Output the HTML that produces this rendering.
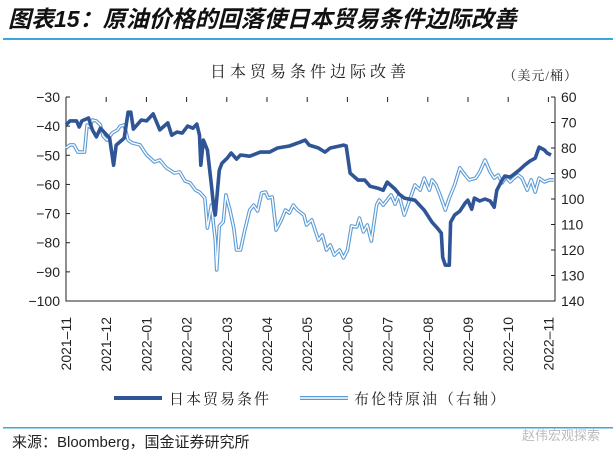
<!DOCTYPE html>
<html><head><meta charset="utf-8"><style>
body{margin:0;background:#fff;width:613px;height:457px;overflow:hidden;font-family:"Liberation Sans","Noto Sans CJK SC",sans-serif}
svg text{font-family:"Liberation Sans","Noto Sans CJK SC",sans-serif}
svg text.serif{font-family:"Liberation Serif","Noto Serif CJK SC",serif}
</style></head><body>
<svg id="c" width="613" height="457" xmlns="http://www.w3.org/2000/svg">
<text x="8" y="27" font-size="23" font-weight="bold" font-style="italic" fill="#111">图表15：原油价格的回落使日本贸易条件边际改善</text>
<rect x="3" y="38" width="610" height="2" fill="#3aa8dc"/>
<text class="serif" x="310" y="77" font-size="16" letter-spacing="4" text-anchor="middle" fill="#222">日本贸易条件边际改善</text>
<text class="serif" x="578" y="80" font-size="13" letter-spacing="1" text-anchor="end" fill="#222">（美元/桶）</text>
<g id="axes"></g>
<g id="series"></g>
<line x1="114" y1="398" x2="162" y2="398" stroke="#2f5597" stroke-width="4"/>
<text class="serif" x="169" y="404" font-size="15" letter-spacing="2" fill="#222">日本贸易条件</text>
<line x1="300" y1="398" x2="348" y2="398" stroke="#5b9bd5" stroke-width="4"/>
<line x1="300" y1="398" x2="348" y2="398" stroke="#fff" stroke-width="1.5"/>
<text class="serif" x="354" y="404" font-size="15" letter-spacing="2" fill="#222">布伦特原油（右轴）</text>
<rect x="3" y="427" width="610" height="1.5" fill="#3aa8dc"/>
<text x="12" y="447" font-size="15" fill="#222">来源：Bloomberg，国金证券研究所</text>
<text x="600" y="440" font-size="13" text-anchor="end" fill="#bbb">赵伟宏观探索</text>
</svg>
<script>
const monthLabels=["2021-11","2021-12","2022-01","2022-02","2022-03","2022-04","2022-05","2022-06","2022-07","2022-08","2022-09","2022-10","2022-11"];
const leftTicks=[-30,-40,-50,-60,-70,-80,-90,-100];
const rightTicks=[60,70,80,90,100,110,120,130,140];
const totDays=[0,3,8,10,12,17,20,23,26,33,36,38,44,47,49,51,57,61,66,71,77,80,84,88,92,96,99,101,102,104,107,110,112,113,116,118,122,125,129,132,139,147,154,160,169,177,181,184,191,196,200,207,210,212,215,221,226,230,236,240,243,249,252,256,264,271,277,281,284,285,287,290,291,294,298,302,304,307,309,313,317,321,324,326,330,332,336,339,343,347,351,355,358,362,364,367];
const totVals=[-39.6,-38.2,-38.2,-40.3,-38.2,-37.2,-41.3,-43.7,-40.7,-44.1,-53.4,-46.5,-44.1,-35.2,-35.2,-41,-37.9,-38.2,-35.8,-41.3,-38.9,-43.1,-42,-42.4,-40,-40.7,-39.3,-43.1,-53.4,-44.8,-48.2,-60.2,-68.8,-70.5,-55.1,-52.7,-51,-49.2,-51.3,-49.9,-50.3,-48.9,-48.9,-47.5,-46.8,-45.5,-44.8,-46.5,-47.5,-48.9,-47.5,-46.8,-46.5,-46.8,-56.1,-58.5,-58.5,-60.6,-61.3,-62,-59.2,-61.6,-63.3,-64.7,-65.4,-68.8,-73,-75,-76.7,-85,-87.7,-87.7,-73,-70.5,-69.2,-66.4,-65.4,-68.5,-64.7,-65.7,-65,-65.7,-67.8,-62,-58.5,-57.1,-57.5,-56.5,-55.1,-53.4,-52,-51,-47.2,-48.2,-49.2,-49.9];
const brentDays=[0,3,6,9,14,16,18,20,23,26,28,31,35,39,41,44,47,50,56,61,67,71,76,82,86,90,94,98,101,105,107,110,113,114,116,119,121,124,127,129,132,135,139,142,145,148,151,153,156,159,163,166,169,172,175,180,182,186,191,194,197,200,203,207,210,213,216,220,222,225,228,231,235,237,240,243,246,249,252,256,260,264,268,271,275,277,280,283,287,290,294,298,302,305,310,313,317,321,324,327,330,333,336,339,342,345,349,352,355,358,362,366,369];
const brentVals=[80,78.8,78.8,81.6,81.6,71,71.8,69,69.4,71,75.3,76.9,74.1,72.9,71.4,71,76.9,78,78.8,82.7,85.5,84.7,87.8,89.8,89.4,92.9,93.7,96.5,97.3,99.6,111.4,102.4,116.1,127.8,110.6,109,98.4,104.3,111.4,120,120,112.9,104.3,102.4,104.7,97.6,97.3,99.6,99.2,112.2,108.2,104.3,105.5,102.4,104.3,106.3,110.2,108.2,116.1,114.1,120,118,122,120,123.1,120,110.6,111,107.5,112.9,110.2,116.5,102.4,100.4,102.4,100.4,98.4,102,98.4,106.3,100.4,94.5,96.5,91.8,96.5,92.5,94.5,98.4,104.3,99.6,94.5,87.8,90.6,92.5,91.8,89.4,84.7,89.4,91.8,90.6,93.7,91.4,93.3,91.8,90.6,91.8,96.5,92.5,97.3,91.8,93.3,92.5,92.5];

const X0=66,X1=555,Y0=97,Y1=301,DAYS_END=370;
const xMonth=i=>X0+i*40.2;
const xDay=d=>X0+(X1-X0)*d/DAYS_END;
const yL=v=>Y0+(-30-v)/70*(Y1-Y0);
const yR=v=>Y0+(v-60)/80*(Y1-Y0);
const NS="http://www.w3.org/2000/svg";
function mk(tag,attrs,parent){const e=document.createElementNS(NS,tag);for(const k in attrs)e.setAttribute(k,attrs[k]);parent.appendChild(e);return e;}
const ax=document.getElementById('axes'),sr=document.getElementById('series');
let e=mk('path',{d:`M${X0},${Y0}V${Y1}H${X1}V${Y0}`,fill:'none',stroke:'#222','stroke-width':1},ax);


leftTicks.forEach(v=>{
  let t=mk('line',{x1:X0,x2:X0+4,y1:yL(v),y2:yL(v),stroke:'#222'},ax);
  
  
  let l=mk('text',{x:X0-6,y:yL(v)+5,'font-size':14,'text-anchor':'end',fill:'#222'},ax);l.textContent=v<0?'\u2212'+(-v):v;
  
  
});
rightTicks.forEach(v=>{
  let t=mk('line',{x1:X1-4,x2:X1,y1:yR(v),y2:yR(v),stroke:'#222'},ax);
  
  
  let l=mk('text',{x:X1+6,y:yR(v)+5,'font-size':14,fill:'#222'},ax);l.textContent=v;
  
  
});
monthLabels.forEach((m,i)=>{
  const x=xMonth(i);
  let t=mk('line',{x1:x,x2:x,y1:Y0,y2:Y0+5,stroke:'#222'},ax);
  
  
  let l=mk('text',{x:0,y:0,'font-size':14,'text-anchor':'end',fill:'#222',transform:`translate(${x+5},${Y1+16}) rotate(-90)`},ax);l.textContent=m.replace('-','\u2013');
  
  
});
const dB=brentDays.map((d,i)=>(i?'L':'M')+xDay(d).toFixed(1)+','+yR(brentVals[i]).toFixed(1)).join('');
let b1=mk('path',{d:dB,fill:'none',stroke:'#5b9bd5','stroke-width':3.6,'stroke-linejoin':'round'},sr);


let b2=mk('path',{d:dB,fill:'none',stroke:'#fff','stroke-width':1.4,'stroke-linejoin':'round'},sr);


const dT=totDays.map((d,i)=>(i?'L':'M')+xDay(d).toFixed(1)+','+yL(totVals[i]).toFixed(1)).join('');
let tl=mk('path',{d:dT,fill:'none',stroke:'#2f5597','stroke-width':3.6,'stroke-linejoin':'round'},sr);


</script>
</body></html>
